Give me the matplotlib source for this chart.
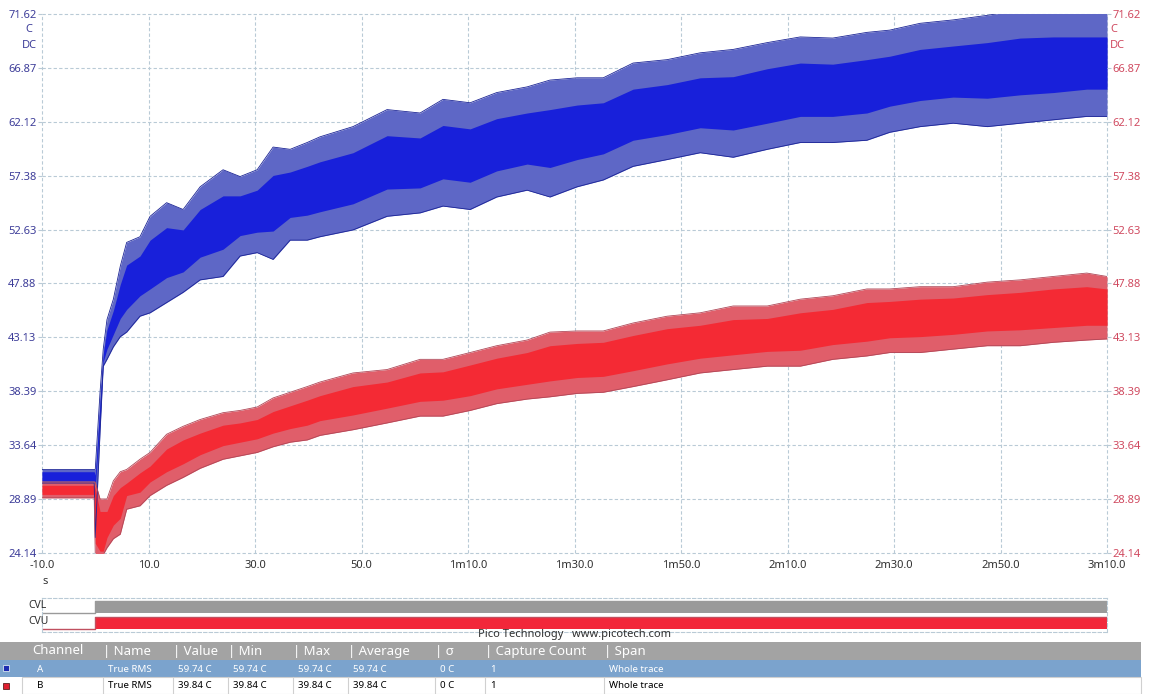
import matplotlib.pyplot as plt
from matplotlib.patches import Rectangle
import numpy as np

plt.rcParams['font.family'] = ['Noto Sans', 'DejaVu Sans']

W, H = 1151, 694

# time axis (s)
t = [-10, -0.2, 0.0, 0.9, 1.5, 2.2, 3.4, 4.7, 5.9, 8.4, 10.3, 13.4, 16.5, 19.7, 24, 27.2,
     30.4, 33.4, 36.6, 39.8, 42.2, 48.4, 54.8, 61, 65.3, 70.4, 75.4, 81.1, 85.4, 90.5, 95.4,
     101, 107.4, 113.6, 119.8, 126.2, 132.4, 138.5, 144.9, 149.2, 154.9, 161.1, 167.5,
     173.7, 179.9, 186.2, 190]

# channel A (blue) - spike envelope and dense core
blue_hi = [31.5, 31.5, 31.5, 38.3, 42.1, 44.7, 46.5, 49.4, 51.5, 52.0, 53.8, 55.0, 54.4, 56.4,
           57.9, 57.3, 57.9, 59.9, 59.7, 60.3, 60.8, 61.7, 63.2, 62.9, 64.1, 63.8, 64.7, 65.2,
           65.8, 66.0, 66.0, 67.3, 67.6, 68.2, 68.5, 69.1, 69.6, 69.5, 70.0, 70.2, 70.8, 71.1,
           71.5, 72.0, 72.0, 72.0, 72.0]
blue_lo = [30.3, 30.3, 25.5, 34.8, 40.6, 41.2, 42.3, 43.2, 43.6, 45.0, 45.3, 46.2, 47.1, 48.2,
           48.5, 50.3, 50.6, 50.0, 51.7, 51.7, 52.0, 52.6, 53.8, 54.1, 54.7, 54.4, 55.5, 56.1,
           55.5, 56.4, 57.0, 58.2, 58.8, 59.4, 59.0, 59.7, 60.3, 60.3, 60.5, 61.2, 61.7, 62.0,
           61.7, 62.0, 62.3, 62.6, 62.6]
blue_core_hi = [31.3, 31.3, 31.0, 37.4, 41.7, 43.8, 45.5, 47.8, 49.5, 50.3, 51.7, 52.8, 52.6,
                54.4, 55.6, 55.6, 56.1, 57.4, 57.7, 58.2, 58.6, 59.4, 60.9, 60.7, 61.8, 61.5,
                62.4, 62.9, 63.2, 63.6, 63.8, 65.0, 65.4, 66.0, 66.1, 66.8, 67.3, 67.2, 67.6,
                67.9, 68.5, 68.8, 69.1, 69.5, 69.6, 69.6, 69.6]
blue_core_lo = [30.5, 30.5, 30.0, 35.7, 41.0, 42.1, 43.4, 44.8, 45.6, 46.8, 47.4, 48.4, 48.9,
                50.2, 50.9, 52.1, 52.4, 52.5, 53.7, 53.9, 54.2, 54.9, 56.2, 56.3, 57.1, 56.8,
                57.8, 58.4, 58.1, 58.8, 59.3, 60.5, 61.0, 61.6, 61.4, 62.0, 62.6, 62.6, 62.9,
                63.5, 64.0, 64.3, 64.2, 64.5, 64.7, 65.0, 65.0]

# channel B (red)
red_hi = [30.4, 30.4, 30.4, 28.9, 28.9, 28.9, 30.5, 31.3, 31.5, 32.4, 33.0, 34.6, 35.3, 35.9,
          36.5, 36.7, 37.0, 37.8, 38.3, 38.8, 39.2, 40.0, 40.3, 41.2, 41.2, 41.8, 42.4, 42.9,
          43.6, 43.7, 43.7, 44.4, 45.0, 45.3, 45.9, 45.9, 46.5, 46.8, 47.4, 47.4, 47.6, 47.6,
          48.0, 48.2, 48.5, 48.8, 48.5]
red_lo = [29.0, 29.0, 24.0, 24.0, 24.0, 24.6, 25.4, 25.8, 28.0, 28.3, 29.2, 30.1, 30.8, 31.6,
          32.4, 32.7, 33.0, 33.5, 33.9, 34.1, 34.5, 35.0, 35.6, 36.2, 36.2, 36.7, 37.3, 37.7,
          37.9, 38.2, 38.3, 38.8, 39.4, 40.0, 40.3, 40.6, 40.6, 41.2, 41.5, 41.8, 41.8, 42.1,
          42.4, 42.4, 42.7, 42.9, 43.0]
red_core_hi = [30.1, 30.1, 29.8, 27.8, 27.8, 27.8, 29.2, 29.9, 30.3, 31.2, 31.8, 33.3, 34.1,
               34.7, 35.4, 35.6, 35.9, 36.6, 37.1, 37.6, 38.0, 38.8, 39.2, 40.0, 40.1, 40.7,
               41.3, 41.8, 42.4, 42.6, 42.7, 43.3, 43.9, 44.2, 44.7, 44.8, 45.3, 45.6, 46.2,
               46.3, 46.5, 46.6, 46.9, 47.1, 47.4, 47.6, 47.4]
red_core_lo = [29.3, 29.3, 25.0, 24.3, 24.3, 25.5, 26.6, 27.2, 29.2, 29.5, 30.4, 31.3, 32.0,
               32.8, 33.6, 33.9, 34.2, 34.7, 35.1, 35.4, 35.8, 36.3, 36.9, 37.5, 37.6, 38.0,
               38.6, 39.0, 39.3, 39.6, 39.7, 40.2, 40.8, 41.3, 41.6, 41.9, 42.0, 42.5, 42.8,
               43.1, 43.2, 43.4, 43.7, 43.8, 44.0, 44.2, 44.2]

y_ticks = [24.14, 28.89, 33.64, 38.39, 43.13, 47.88, 52.63, 57.38, 62.12, 66.87, 71.62]
x_ticks = [-10, 10, 30, 50, 70, 90, 110, 130, 150, 170, 190]
x_labels = ['-10.0', '10.0', '30.0', '50.0', '1m10.0', '1m30.0', '1m50.0', '2m10.0',
            '2m30.0', '2m50.0', '3m10.0']

# digital channels
dig_t = [-10, 0, 190]
cvl_state = [0, 1, 1]
cvu_state = [0, 1, 1]

# measurements table
columns = ['Channel', 'Name', 'Value', 'Min', 'Max', 'Average', 'σ', 'Capture Count', 'Span']
row_a = ['A', 'True RMS', '59.74 C', '59.74 C', '59.74 C', '59.74 C', '0 C', '1', 'Whole trace']
row_b = ['B', 'True RMS', '39.84 C', '39.84 C', '39.84 C', '39.84 C', '0 C', '1', 'Whole trace']

grid_c = '#b9cad6'
left_c = '#3d3d99'
right_c = '#d04a60'

fig = plt.figure(figsize=(W / 100, H / 100), dpi=100)
fig.patch.set_facecolor('white')

ax = fig.add_axes([42 / W, 1 - 553 / H, 1065 / W, 539 / H])
ax.fill_between(t, blue_lo, blue_hi, color='#5e67c6', lw=0)
ax.plot(t, blue_hi, color='#1c2596', lw=0.6)
ax.plot(t, blue_lo, color='#1c2596', lw=0.6)
ax.fill_between(t, blue_core_lo, blue_core_hi, color='#1820da', lw=0)
ax.fill_between(t, red_lo, red_hi, color='#e05e6a', lw=0)
ax.plot(t, red_hi, color='#b04858', lw=0.6)
ax.plot(t, red_lo, color='#b04858', lw=0.6)
ax.fill_between(t, red_core_lo, red_core_hi, color='#f42a34', lw=0)

ax.set_xlim(-10, 190)
ax.set_ylim(24.14, 71.62)
ax.set_xticks(x_ticks)
ax.set_xticklabels(x_labels)
ax.set_yticks(y_ticks)
ax.set_yticklabels(['%.2f' % v for v in y_ticks])
ax.grid(True, color=grid_c, linestyle=(0, (3, 2)), linewidth=0.8)
ax.set_axisbelow(True)
for ln in ax.get_xgridlines() + ax.get_ygridlines():
    ln.set_clip_on(False)
for s in ax.spines.values():
    s.set_visible(False)
ax.tick_params(axis='y', length=3, color=grid_c, labelcolor=left_c, labelsize=8, pad=1)
ax.tick_params(axis='x', length=0, labelcolor='#303030', labelsize=8, pad=5)

ax2 = ax.twinx()
ax2.set_ylim(24.14, 71.62)
ax2.set_yticks(y_ticks)
ax2.set_yticklabels(['%.2f' % v for v in y_ticks])
ax2.tick_params(axis='y', length=3, color=grid_c, labelcolor=right_c, labelsize=8, pad=1)
for s in ax2.spines.values():
    s.set_visible(False)

fig.text(29 / W, 1 - 30 / H, 'C', color=left_c, fontsize=8, ha='center', va='center')
fig.text(29 / W, 1 - 45 / H, 'DC', color=left_c, fontsize=8, ha='center', va='center')
fig.text(1110 / W, 1 - 30 / H, 'C', color=right_c, fontsize=8, ha='left', va='center')
fig.text(1110 / W, 1 - 45 / H, 'DC', color=right_c, fontsize=8, ha='left', va='center')
fig.text(45 / W, 1 - 582 / H, 's', color='#303030', fontsize=8, ha='center', va='center')

# digital panel
dax = fig.add_axes([42 / W, 1 - 632 / H, 1065 / W, 34 / H])
dax.set_xlim(-10, 190)
dax.set_ylim(0, 34)
dax.fill_between(dig_t, 19, 19 + 12 * np.array(cvl_state), step='post', color='#9a9a9a', lw=0)
dax.step(dig_t, [19 + 12 * s for s in cvl_state], where='post', color='#9a9a9a', lw=1)
dax.fill_between(dig_t, 3, 3 + 12 * np.array(cvu_state), step='post', color='#f2273a', lw=0)
dax.step(dig_t, [3 + 12 * s for s in cvu_state], where='post', color='#c05060', lw=1)
dax.set_xticks([])
dax.set_yticks([])
for s in dax.spines.values():
    s.set_linestyle((0, (3, 2)))
    s.set_color(grid_c)
    s.set_linewidth(0.8)
fig.text(28 / W, 1 - 606 / H, 'CVL', fontsize=7.5, color='#303030', va='center')
fig.text(28 / W, 1 - 622 / H, 'CVU', fontsize=7.5, color='#303030', va='center')
fig.text(575 / W, 1 - 635 / H, 'Pico Technology   www.picotech.com', fontsize=8,
         color='#303030', ha='center', va='center')

# table
col_x = [32, 103, 173, 228, 293, 348, 435, 485, 604]
fig.patches.append(Rectangle((0, 1 - 660 / H), 1141 / W, 18 / H, transform=fig.transFigure,
                             color='#a3a3a3', lw=0))
fig.patches.append(Rectangle((0, 1 - 677 / H), 1141 / W, 17 / H, transform=fig.transFigure,
                             color='#7ba3cd', lw=0))
fig.patches.append(Rectangle((22 / W, 1 - 694 / H), 1119 / W, 17 / H, transform=fig.transFigure,
                             facecolor='white', edgecolor='#d0d0d0', lw=0.8))
fig.patches.append(Rectangle((3 / W, 1 - 671 / H), 6 / W, 6 / H, transform=fig.transFigure,
                             facecolor='#1c2bb0', edgecolor='#d8e4f0', lw=0.6))
fig.patches.append(Rectangle((3 / W, 1 - 689 / H), 6 / W, 6 / H, transform=fig.transFigure,
                             facecolor='#e02030', edgecolor='#602020', lw=0.6))
for i, x in enumerate(col_x):
    label = columns[i] if i == 0 else '| ' + columns[i]
    fig.text(x / W, 1 - 651 / H, label, fontsize=9.5, color='white', va='center')
    fig.text((x + 5) / W, 1 - 669 / H, row_a[i], fontsize=7, color='white', va='center')
    fig.text((x + 5) / W, 1 - 686 / H, row_b[i], fontsize=7, color='black', va='center')
    if i > 0:
        fig.add_artist(plt.Line2D([x / W, x / W], [1 - 694 / H, 1 - 677 / H], color='#d0d0d0',
                                  lw=0.8, transform=fig.transFigure))

fig.savefig('out.png', dpi=100)
